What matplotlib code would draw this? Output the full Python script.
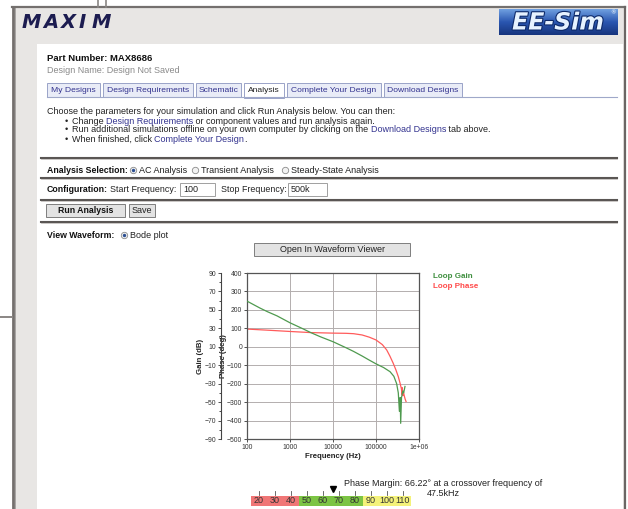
import matplotlib
matplotlib.use('Agg')
import matplotlib.pyplot as plt
import matplotlib.patheffects as pe
from matplotlib.patches import Rectangle, Circle
from matplotlib.ticker import MultipleLocator, NullLocator
import numpy as np

FONT = ['Liberation Sans', 'DejaVu Sans']

# bode plot data
freq_gain = [100, 200, 300, 500, 1000, 2000, 3000, 5000, 10000, 20000, 30000,
             47500, 70000, 100000, 150000, 212000, 260000, 302000, 330000,
             350000, 365000, 375000, 392000, 420000, 440000, 472000]
gain_db = [59.5, 52, 48, 43.5, 36, 29.5, 25.5, 21, 15.5, 9, 5,
           0, -4.5, -8.5, -12.5, -17, -22, -30, -40,
           -60, -45, -73, -45, -38, -40, -33]

freq_phase = [100, 300, 1000, 3000, 10000, 20000, 30000, 47500, 70000, 100000,
              140000, 177000, 210000, 251000, 290000, 330000, 365000, 390000,
              400000, 408000, 418000, 430000, 450000, 475000, 500000]
phase_deg = [96, 90, 83, 77, 74, 73, 71, 64, 52, 37,
             12, -17, -50, -89, -125, -162, -200, -228,
             -258, -222, -265, -240, -262, -283, -297]

x_ticks = [100, 1000, 10000, 100000, 1000000]
x_tick_labels = ['100', '1000', '10000', '100000', '1e+06']
phase_ticks = list(range(-500, 401, 100))
gain_ticks = list(range(-90, 91, 20))

tabs = ['My Designs', 'Design Requirements', 'Schematic', 'Analysis',
        'Complete Your Design', 'Download Designs']
pm_scale = [20, 30, 40, 50, 60, 70, 80, 90, 100, 110]
phase_margin = 66.22
crossover_khz = 47.5

fig = plt.figure(figsize=(6.28, 5.09), dpi=100)
fig.patch.set_facecolor('white')

# page drawn in pixel coordinates
bg = fig.add_axes([0, 0, 1, 1])
bg.set_xlim(0, 628)
bg.set_ylim(509, 0)
bg.axis('off')
rend = fig.canvas.get_renderer()

LINK = '#33338f'
TXT = '#222222'


def text_w(s, size, weight='normal'):
    t = bg.text(0, 0, s + 'l', fontsize=size, fontweight=weight, family=FONT)
    t0 = bg.text(0, 0, 'l', fontsize=size, fontweight=weight, family=FONT)
    w = t.get_window_extent(rend).width - t0.get_window_extent(rend).width
    t.remove()
    t0.remove()
    return w


def put(x, y, s, size, color=TXT, weight='normal', ha='left'):
    return bg.text(x, y, s, fontsize=size, color=color, fontweight=weight,
                   family=FONT, ha=ha, va='center')


def runs(x, y, parts, size, weight='normal'):
    prefix = ''
    for s, c in parts:
        put(x + text_w(prefix, size, weight), y, s, size, c, weight)
        prefix += s


def radio(x, y, on=False):
    bg.add_patch(Circle((x, y), 3.2, fc='#f2f2f2', ec='#8c8c8c', lw=0.6))
    if on:
        bg.add_patch(Circle((x, y), 1.7, fc='#2d4f92', ec='none'))


def box(x0, y0, x1, y1, fc='#e3e3e3', ec='#7e7e7e'):
    bg.add_patch(Rectangle((x0, y0), x1 - x0, y1 - y0, fc=fc, ec=ec, lw=0.7))


# calibrate font sizes against widths in the screenshot
tab_size = 6.5 * 82 / text_w('Design Requirements', 6.5)
body = 6.5 * 133 / text_w('Design Name: Design Not Saved', 6.5)
bold = 6.5 * 80 / text_w('Analysis Selection:', 6.5, 'bold')
title = 6.5 * 105 / text_w('Part Number: MAX8686', 6.5, 'bold')

# frame and background
bg.add_patch(Rectangle((13, 8), 611, 501, fc='#e8e6e4', ec='none'))
bg.add_patch(Rectangle((37, 44), 586, 465, fc='white', ec='none'))
bg.plot([12.5, 12.5], [7, 509], color='#74706e', lw=2.0)
bg.plot([15.2, 15.2], [8, 509], color='#a8a4a2', lw=0.7)
bg.plot([12, 624.5], [7, 7], color='#74706e', lw=1.6)
bg.plot([624.5, 624.5], [7, 509], color='#6a6664', lw=1.6)
bg.plot([98, 98], [0, 7], color='#8a8684', lw=1.2)
bg.plot([106, 106], [0, 7], color='#8a8684', lw=1.2)
bg.plot([0, 12], [317, 317], color='#8a8684', lw=1.4)

# MAXIM logo
for ch, cx in zip('MAXIM', [31, 51, 68.5, 82.5, 101]):
    bg.text(cx, 22, ch, fontsize=14, fontweight='bold', style='italic',
            color='#1c1c50', family='DejaVu Sans', ha='center', va='center')

# EE-Sim logo
grad = np.linspace(0, 1, 50).reshape(-1, 1)
bg.imshow(grad, cmap=matplotlib.colors.LinearSegmentedColormap.from_list(
    'ee', ['#6f9fe0', '#2a56b0', '#17357e']), extent=(499, 618, 35, 9),
    aspect='auto', zorder=2)
bg.text(558, 22.5, 'EE-Sim', fontsize=17, fontweight='bold', style='italic',
        color='#e6f2ff', family='DejaVu Sans', ha='center', va='center', zorder=3,
        path_effects=[pe.withStroke(linewidth=1.6, foreground='#0e2a6a')])
bg.text(613, 12.5, '®', fontsize=4, color='white', ha='center', va='center', zorder=3)
bg.set_xlim(0, 628)
bg.set_ylim(509, 0)

# part header
put(47, 58, 'Part Number: MAX8686', title, '#111111', 'bold')
put(47, 70, 'Design Name: Design Not Saved', body, '#8a8a8a')

# tabs
tab_x = [(47, 100), (103, 193), (196, 241), (244, 284), (287, 381), (384, 462)]
bg.plot([47, 617], [97, 97], color='#9fa8c9', lw=0.8)
for name, (x0, x1) in zip(tabs, tab_x):
    active = name == 'Analysis'
    box(x0, 83, x1, 97.5 if active else 97, fc='white' if active else '#e9ecf7',
        ec='#9aa3c8')
    put((x0 + x1) / 2, 90.5, name, tab_size, TXT if active else LINK, ha='center')

# instructions
put(47, 111, 'Choose the parameters for your simulation and click Run Analysis below. You can then:', body)
for yy in [121, 130, 139]:
    put(65, yy, '\u2022', body)
runs(72, 121, [('Change ', TXT), ('Design Requirements', LINK),
               (' or component values and run analysis again.', TXT)], body)
runs(72, 130, [('Run additional simulations offline on your own computer by clicking on the ', TXT),
               ('Download Designs', LINK), (' tab above.', TXT)], body)
runs(72, 139, [('When finished, click ', TXT), ('Complete Your Design', LINK), ('.', TXT)], body)

# separators
for yy in [158, 178, 200, 222]:
    bg.plot([41, 617], [yy, yy], color='#5a5654', lw=1.5)
    bg.plot([41, 617], [yy + 1.3, yy + 1.3], color='#c2bebc', lw=0.6)

# analysis selection
put(47, 170.5, 'Analysis Selection:', bold, '#111111', 'bold')
radio(133.5, 170.5, True)
put(139, 170.5, 'AC Analysis', body)
radio(195.5, 170.5)
put(201, 170.5, 'Transient Analysis', body)
radio(285.5, 170.5)
put(291, 170.5, 'Steady-State Analysis', body)

# configuration
put(47, 189, 'Configuration:', bold, '#111111', 'bold')
put(110, 189.5, 'Start Frequency:', tab_size * 1.04)
box(180, 182.5, 215, 196, fc='white', ec='#a0a0a0')
put(183, 189.5, '100', body)
put(221, 189.5, 'Stop Frequency:', tab_size * 1.04)
box(288, 182.5, 327, 196, fc='white', ec='#a0a0a0')
put(291, 189.5, '500k', body)

# buttons
box(46, 204, 125, 216.5)
put(85.5, 210.3, 'Run Analysis', bold, '#111111', 'bold', ha='center')
box(129, 204, 155, 216.5)
put(142, 210.3, 'Save', body, ha='center')

put(47, 235, 'View Waveform:', bold, '#111111', 'bold')
radio(124.5, 235.5, True)
put(130, 235.5, 'Bode plot', body)

box(254, 243, 410, 256)
put(332, 249.5, 'Open In Waveform Viewer', body, ha='center')

# ---- bode plot ----
ax = fig.add_axes([247 / 628, (509 - 439) / 509, 172 / 628, 166 / 509])
ax.set_xscale('log')
ax.plot(freq_phase, phase_deg, color='#ff5b5b', lw=0.9)
ax.set_xlim(100, 1e6)
ax.set_ylim(-500, 400)
ax.set_xticks(x_ticks)
ax.set_xticklabels(x_tick_labels)
ax.xaxis.set_minor_locator(NullLocator())
ax.set_yticks(phase_ticks)
ax.grid(True, color='#b3aeae', lw=0.7)
ax.set_axisbelow(True)
for s in ax.spines.values():
    s.set_color('#555555')
    s.set_linewidth(0.9)
ax.tick_params(labelsize=4.9, length=2.5, width=0.6, pad=1, colors='#333333')
for lab in ax.get_xticklabels() + ax.get_yticklabels():
    lab.set_family(FONT)

gx = ax.twinx()
gx.plot(freq_gain, gain_db, color='#4f9a4f', lw=0.9)
gx.set_ylim(-90, 90)
gx.yaxis.tick_left()
gx.yaxis.set_label_position('left')
gx.spines['left'].set_position(('outward', 26 * 72 / 100))
gx.spines['left'].set_visible(True)
gx.spines['left'].set_color('#444444')
gx.spines['left'].set_linewidth(0.8)
for side in ['right', 'top', 'bottom']:
    gx.spines[side].set_visible(False)
gx.set_yticks(gain_ticks)
gx.yaxis.set_minor_locator(MultipleLocator(10))
gx.tick_params(labelsize=4.9, length=2.5, width=0.6, pad=1, colors='#333333')
gx.tick_params(which='minor', length=1.5, width=0.5)
for lab in gx.get_yticklabels():
    lab.set_family(FONT)

ax.set_ylabel('Phase (deg)', fontsize=5.6, fontweight='bold', family=FONT, color='#222222')
ax.yaxis.set_label_coords((227 - 247) / 172, 0.5)
gx.set_ylabel('Gain (dB)', fontsize=5.6, fontweight='bold', family=FONT, color='#222222')
gx.yaxis.set_label_coords((204 - 247) / 172, 0.5)
ax.set_xlabel('Frequency (Hz)', fontsize=5.6, fontweight='bold', family=FONT, color='#222222')
ax.xaxis.set_label_coords(0.5, -(453 - 439) / 166)

put(433, 277, 'Loop Gain', 5.8, '#3f8f3f', 'bold')
put(433, 286, 'Loop Phase', 5.8, '#ff4b4b', 'bold')

# ---- phase margin indicator ----
def pm_x(v):
    return 259 + (v - 20) * 1.6


pm_size = 6.3 * 199 / text_w('Phase Margin: 66.22\u00b0 at a crossover frequency of', 6.3)
put(344, 483, f'Phase Margin: {phase_margin:.2f}\u00b0 at a crossover frequency of', pm_size, '#222222')
put(443, 493, f'{crossover_khz}kHz', pm_size, '#222222', ha='center')

for lo, hi, c in [(15, 45, '#f07676'), (45, 85, '#7cc444'), (85, 115, '#f4f27a')]:
    bg.add_patch(Rectangle((pm_x(lo), 495.5), pm_x(hi) - pm_x(lo), 10, fc=c, ec='none'))
for v in pm_scale:
    bg.plot([pm_x(v), pm_x(v)], [491, 494.5], color='#555555', lw=0.6)
    put(pm_x(v), 500.5, str(v), pm_size, '#333333', ha='center')
bg.plot(pm_x(phase_margin), 489, marker='v', color='black', ms=4)

fig.savefig('out.png', dpi=100)
